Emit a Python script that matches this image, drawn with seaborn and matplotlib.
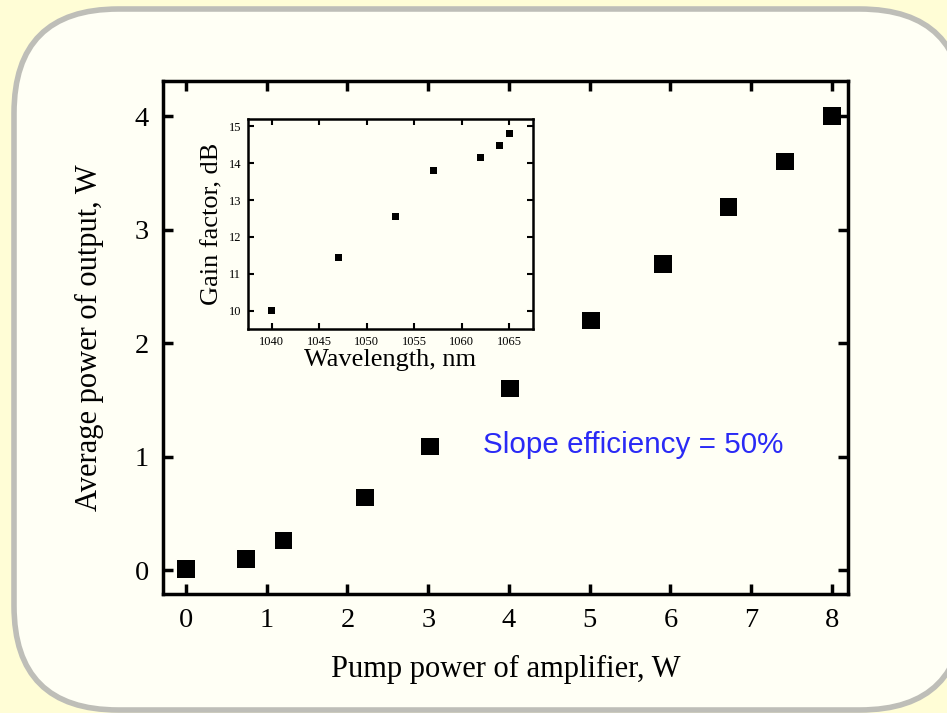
import matplotlib
matplotlib.use('Agg')
import matplotlib.pyplot as plt
from matplotlib.patches import FancyBboxPatch
import seaborn as sns
import pandas as pd

# main curve: pump power vs average output power
pump_power = [0.0, 0.74, 1.21, 2.22, 3.02, 4.01, 5.02, 5.91, 6.72, 7.42, 8.0]
output_power = [0.01, 0.10, 0.26, 0.64, 1.09, 1.60, 2.20, 2.70, 3.20, 3.60, 4.00]

# inset: gain vs wavelength
wavelength = [1040, 1047, 1053, 1057, 1062, 1064, 1065]
gain_db = [10.0, 11.45, 12.55, 13.8, 14.15, 14.47, 14.8]

main_xticks = [0, 1, 2, 3, 4, 5, 6, 7, 8]
main_yticks = [0, 1, 2, 3, 4]
inset_xticks = [1040, 1045, 1050, 1055, 1060, 1065]
inset_yticks = [10, 11, 12, 13, 14, 15]

sns.set_style('ticks')
plt.rcParams['font.family'] = ['Liberation Serif', 'DejaVu Serif']
plt.rcParams.update({'axes.edgecolor': 'black', 'axes.labelcolor': 'black',
                     'xtick.color': 'black', 'ytick.color': 'black',
                     'text.color': 'black'})

fig = plt.figure(figsize=(9.47, 7.13), dpi=100)
fig.patch.set_facecolor('#fffdd6')

# rounded panel behind the chart
panel = FancyBboxPatch((14 / 947, 3 / 713), 950 / 947, 701 / 713,
                       boxstyle='round,pad=0,rounding_size=0.11',
                       transform=fig.transFigure, facecolor='#fffff5',
                       edgecolor='#bebeb8', linewidth=4, zorder=-5,
                       mutation_aspect=947 / 713)
fig.patches.append(panel)

df = pd.DataFrame({'pump': pump_power, 'out': output_power})
ax = fig.add_axes([163 / 947, 1 - 594 / 713, 685 / 947, 513 / 713])
ax.set_facecolor('none')
sns.scatterplot(data=df, x='pump', y='out', marker='s', s=160, color='black',
                edgecolor='none', ax=ax, zorder=3)
ax.set_xlim(-0.285, 8.2)
ax.set_ylim(-0.21, 4.31)
ax.set_xticks(main_xticks)
ax.set_yticks(main_yticks)
ax.set_xlabel('Pump power of amplifier, W', fontsize=22, labelpad=16)
ax.set_ylabel('Average power of output, W', fontsize=22, labelpad=22)
ax.tick_params(direction='in', length=7, width=2.5, labelsize=20.5,
               top=True, right=True, pad=10)
for sp in ax.spines.values():
    sp.set_linewidth(2.5)
    sp.set_visible(True)

ax.text(0.686, 0.29, 'Slope efficiency = 50%', transform=ax.transAxes,
        color='#2a2af5', fontsize=21.3, family=['Liberation Sans', 'DejaVu Sans'],
        ha='center', va='center')

# inset
di = pd.DataFrame({'wl': wavelength, 'gain': gain_db})
axi = fig.add_axes([248 / 947, 1 - 329 / 713, 285 / 947, 210 / 713])
axi.set_facecolor('none')
sns.scatterplot(data=di, x='wl', y='gain', marker='s', s=24, color='black',
                edgecolor='none', ax=axi, zorder=3)
axi.set_xlim(1037.5, 1067.5)
axi.set_ylim(9.5, 15.2)
axi.set_xticks(inset_xticks)
axi.set_yticks(inset_yticks)
axi.set_xlabel('Wavelength, nm', fontsize=19, labelpad=1)
axi.set_ylabel('Gain factor, dB', fontsize=19, labelpad=4)
axi.tick_params(direction='in', length=4, width=1.5, labelsize=9,
                top=True, right=True, pad=5)
for sp in axi.spines.values():
    sp.set_linewidth(1.8)
    sp.set_visible(True)

fig.savefig('out.png', dpi=100, facecolor=fig.get_facecolor())
